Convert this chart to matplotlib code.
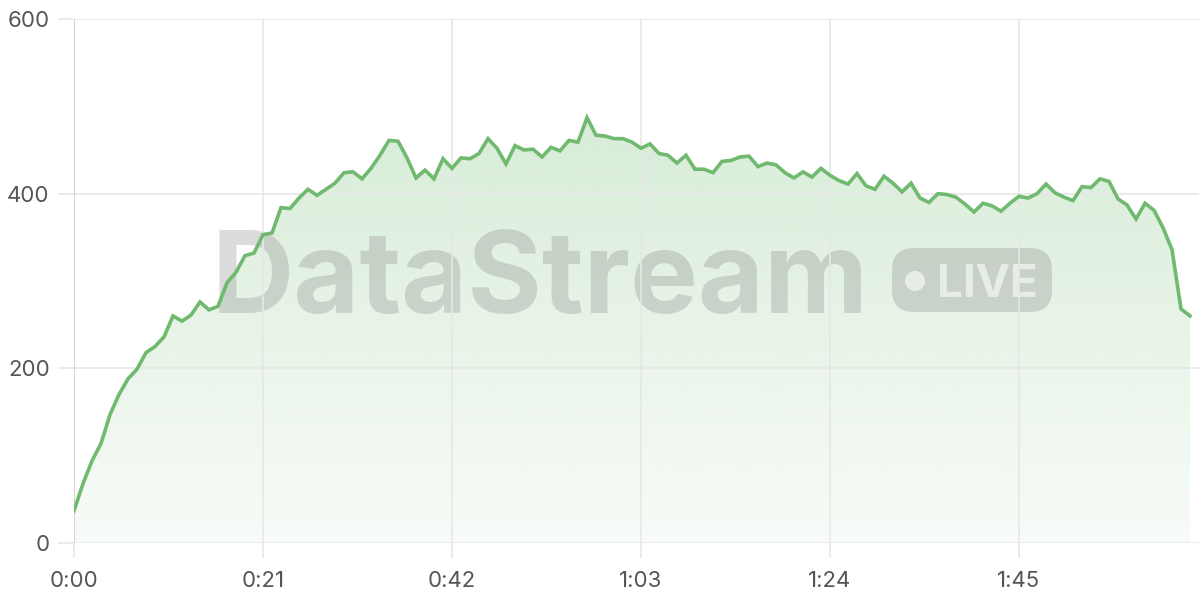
import numpy as np
import matplotlib
matplotlib.use("Agg")
import matplotlib.pyplot as plt
from matplotlib import transforms
from matplotlib.patches import FancyBboxPatch, Circle

plt.rcParams['font.family'] = ['Inter', 'DejaVu Sans']

# viewers per second
seconds = list(range(125))
viewers = [
    37, 68, 94, 114, 147, 170, 188, 199, 218, 225,
    236, 260, 254, 261, 276, 267, 271, 298, 310, 329,
    332, 353, 355, 384, 383, 395, 405, 398, 405, 412,
    424, 425, 417, 429, 444, 461, 460, 441, 418, 427,
    417, 440, 429, 441, 440, 446, 463, 452, 434, 455,
    450, 451, 442, 453, 449, 461, 459, 487, 467, 466,
    463, 463, 459, 452, 457, 446, 444, 435, 444, 428,
    428, 424, 437, 438, 442, 443, 431, 435, 433, 424,
    418, 425, 419, 429, 421, 415, 411, 423, 409, 405,
    420, 412, 402, 412, 395, 390, 400, 399, 396, 388,
    379, 389, 386, 380, 389, 397, 395, 400, 411, 401,
    396, 392, 408, 407, 417, 414, 394, 387, 371, 389,
    381, 361, 336, 268, 260,
]
x_ticks = [0, 21, 42, 63, 84, 105]
x_labels = ['0:00', '0:21', '0:42', '1:03', '1:24', '1:45']
y_ticks = [0, 200, 400, 600]

line_color = '#6fba6f'
grid_color = '#e7e7e7'

fig = plt.figure(figsize=(12, 6), dpi=100)
ax = fig.add_axes([74 / 1200, 57 / 600, 1125 / 1200, 524 / 600])
ax.set_xlim(0, 125)
ax.set_ylim(0, 600)

x = np.array(seconds)
y = np.array(viewers)

# gradient fill under the line
poly = ax.fill_between(x, y, 0, color='none', lw=0, zorder=0.6)
grad = np.zeros((256, 1, 4))
grad[:, 0, 0] = 0x6f / 255
grad[:, 0, 1] = 0xba / 255
grad[:, 0, 2] = 0x6f / 255
grad[:, 0, 3] = np.linspace(0.28, 0.05, 256)
img = ax.imshow(grad, extent=[0, 125, 0, 500], origin='upper', aspect='auto', zorder=0.6)
img.set_clip_path(poly.get_paths()[0], transform=ax.transData)

ax.plot(x, y, color=line_color, lw=2.6, zorder=4, solid_joinstyle='miter')

# watermark, in pixel coords (y down); sits under the grid
px = transforms.Affine2D().scale(1 / 100, -1 / 100).translate(0, 6) + fig.dpi_scale_trans
ax.text(540, 313, 'DataStream', transform=px, fontsize=82, fontweight='bold',
        color='#808080', alpha=0.28, ha='center', va='baseline', zorder=0.8, clip_on=False)
badge = FancyBboxPatch((900, 256), 144, 48, boxstyle='round,pad=8,rounding_size=22',
                       transform=px, fc='#808080', ec='none', alpha=0.28, zorder=0.8, clip_on=False)
ax.add_patch(badge)
ax.add_patch(Circle((915, 281), 10, transform=px, fc='white', ec='none', alpha=0.6,
                    zorder=0.8, clip_on=False))
ax.text(987, 297, 'LIVE', transform=px, fontsize=33, fontweight='bold', color='white',
        alpha=0.6, ha='center', va='baseline', zorder=0.8, clip_on=False)

# axes styling
for s in ax.spines.values():
    s.set_visible(False)
ax.axvline(0, color='#d4d4d4', lw=1.5, zorder=2)
ax.set_xticks(x_ticks)
ax.set_xticklabels(x_labels)
ax.set_yticks(y_ticks)
ax.grid(True, color=grid_color, lw=1.2)
ax.set_axisbelow('line')
ax.tick_params(axis='both', colors=grid_color, labelcolor='#555555', labelsize=16, width=1.2)
ax.tick_params(axis='y', length=11.5, pad=6)
ax.tick_params(axis='x', length=11, pad=9)

fig.savefig('out.png', dpi=100)
